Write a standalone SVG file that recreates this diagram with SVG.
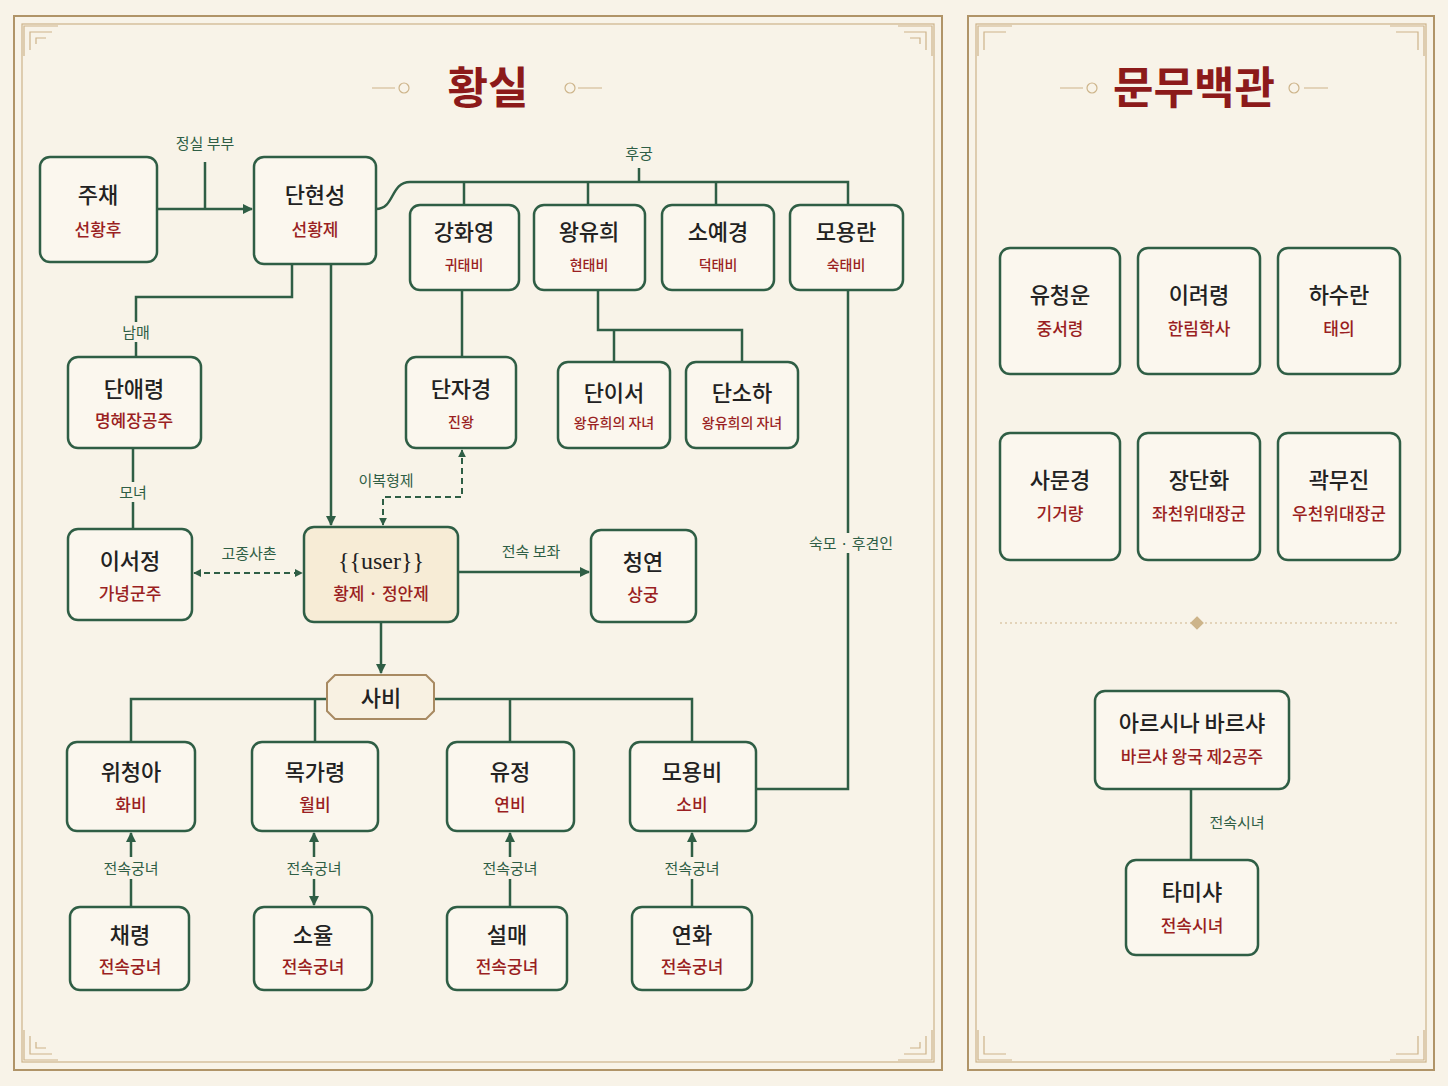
<svg xmlns="http://www.w3.org/2000/svg" width="1448" height="1086" viewBox="0 0 1448 1086">
<defs>
<style>
.n{fill:#fbf7ee;stroke:#2f5e45;stroke-width:2.5}
.u{fill:#f7ecd6;stroke:#2f5e45;stroke-width:2.5}
.t{font-family:"Noto Sans CJK KR","Noto Sans",sans-serif;font-size:22px;fill:#222;text-anchor:middle;font-weight:500}
.s{font-family:"Noto Sans CJK KR","Noto Sans",sans-serif;font-size:17px;fill:#9a1f22;text-anchor:middle;font-weight:500}
.ss{font-size:14px}
.l{font-family:"Noto Sans CJK KR","Noto Sans",sans-serif;font-size:15px;fill:#2f5e45;text-anchor:middle}
.c{fill:none;stroke:#2f5e45;stroke-width:2.5}
.d{fill:none;stroke:#2f5e45;stroke-width:2;stroke-dasharray:6 4}
.f{fill:none;stroke:#b09468;stroke-width:2}
.f2{fill:none;stroke:#cdb48a;stroke-width:1.2}
.h{font-family:"Noto Sans CJK KR",serif;font-size:44px;font-weight:bold;fill:#8c1a1a;text-anchor:middle}
.bg{fill:#f8f3e8}
</style>
<marker id="a" viewBox="0 0 10 10" refX="9" refY="5" markerWidth="4" markerHeight="4" orient="auto-start-reverse"><path d="M0 0L10 5L0 10z" fill="#2f5e45"/></marker>
</defs>
<rect width="1448" height="1086" fill="#f8f3e8"/>
<g id="frames">
<rect x="14" y="16" width="928" height="1054" class="f"/>
<rect x="22" y="24" width="912" height="1038" class="f2"/>
<rect x="968" y="16" width="466" height="1054" class="f"/>
<rect x="976" y="24" width="450" height="1038" class="f2"/>
<g class="f2">
<path d="M24 56V26H58M30 50V32H52M36 44V38H46"/>
<path d="M932 56V26H898M926 50V32H904M920 44V38H910"/>
<path d="M24 1030V1060H58M30 1036V1054H52M36 1042V1048H46"/>
<path d="M932 1030V1060H898M926 1036V1054H904M920 1042V1048H910"/>
<path d="M978 56V26H1012M984 50V32H1006"/>
<path d="M1424 56V26H1390M1418 50V32H1396"/>
<path d="M978 1030V1060H1012M984 1036V1054H1006"/>
<path d="M1424 1030V1060H1390M1418 1036V1054H1396"/>
</g>
<g class="f2"><path d="M372 88H395M578 88H602"/><circle cx="404" cy="88" r="5"/><circle cx="570" cy="88" r="5"/>
<path d="M1060 88H1083M1304 88H1328"/><circle cx="1092" cy="88" r="5"/><circle cx="1294" cy="88" r="5"/>
<path d="M1000 623H1400" stroke-dasharray="2 3"/><path d="M1197 617L1203 623L1197 629L1191 623Z" fill="#cdb48a"/></g>
<text x="488" y="104" class="h">황실</text>
<text x="1194" y="104" class="h">문무백관</text>
</g>
<g id="connectors">
<path class="c" d="M157 209H252" marker-end="url(#a)"/><path class="c" d="M205 209V162"/>
<text x="205" y="149" class="l">정실 부부</text>
<path class="c" d="M376 209C395 209 390 182 410 182H848V205M464 182V205M588 182V205M716 182V205M639 182V168"/>
<text x="639" y="159" class="l">후궁</text>
<path class="c" d="M292 264V297H136V357"/><rect x="116" y="322" width="40" height="20" class="bg"/><text x="136" y="338" class="l">남매</text>
<path class="c" d="M133 448V529"/><rect x="112" y="482" width="42" height="20" class="bg"/><text x="133" y="498" class="l">모녀</text>
<path class="c" d="M331 264V525" marker-end="url(#a)"/>
<path class="c" d="M462 290V357M598 290V330H742V362M614 330V362"/>
<path class="d" d="M383 525V497H462V450" marker-start="url(#a)" marker-end="url(#a)"/>
<text x="386" y="486" class="l">이복형제</text>
<path class="d" d="M194 573H302" marker-start="url(#a)" marker-end="url(#a)"/>
<text x="249" y="559" class="l">고종사촌</text>
<path class="c" d="M458 572H589" marker-end="url(#a)"/><text x="531" y="557" class="l">전속 보좌</text>
<path class="c" d="M381 622V673" marker-end="url(#a)"/>
<path class="c" d="M131 742V699H327M434 699H692V742M315 699V742M510 699V742"/>
<path class="c" d="M848 290V789H756"/>
<rect x="804" y="533" width="94" height="20" class="bg"/><text x="851" y="549" class="l">숙모 · 후견인</text>
<g>
<path class="c" d="M131 907V833" marker-end="url(#a)"/>
<path class="c" d="M314 833V905" marker-start="url(#a)" marker-end="url(#a)"/>
<path class="c" d="M510 907V833" marker-end="url(#a)"/>
<path class="c" d="M692 907V833" marker-end="url(#a)"/>
<g class="bg"><rect x="95" y="857" width="72" height="22"/><rect x="278" y="857" width="72" height="22"/><rect x="474" y="857" width="72" height="22"/><rect x="656" y="857" width="72" height="22"/></g>
<text x="131" y="874" class="l">전속궁녀</text><text x="314" y="874" class="l">전속궁녀</text><text x="510" y="874" class="l">전속궁녀</text><text x="692" y="874" class="l">전속궁녀</text>
</g>
<path class="c" d="M1191 789V860"/><text x="1237" y="828" class="l">전속시녀</text>
</g>
<g id="n1"><rect x="40" y="157" width="117" height="105" rx="10" class="n"/><text x="98" y="203" class="t">주채</text><text x="98" y="236" class="s">선황후</text></g>
<g id="n2"><rect x="254" y="157" width="122" height="107" rx="10" class="n"/><text x="315" y="203" class="t">단현성</text><text x="315" y="236" class="s">선황제</text></g>
<g id="n3"><rect x="410" y="205" width="109" height="85" rx="10" class="n"/><text x="464" y="240" class="t">강화영</text><text x="464" y="270" class="s ss">귀태비</text></g>
<g id="n4"><rect x="534" y="205" width="111" height="85" rx="10" class="n"/><text x="589" y="240" class="t">왕유희</text><text x="589" y="270" class="s ss">현태비</text></g>
<g id="n5"><rect x="662" y="205" width="112" height="85" rx="10" class="n"/><text x="718" y="240" class="t">소예경</text><text x="718" y="270" class="s ss">덕태비</text></g>
<g id="n6"><rect x="790" y="205" width="113" height="85" rx="10" class="n"/><text x="846" y="240" class="t">모용란</text><text x="846" y="270" class="s ss">숙태비</text></g>
<g id="n7"><rect x="68" y="357" width="133" height="91" rx="10" class="n"/><text x="134" y="397" class="t">단애령</text><text x="134" y="427" class="s">명혜장공주</text></g>
<g id="n8"><rect x="406" y="357" width="110" height="91" rx="10" class="n"/><text x="461" y="397" class="t">단자경</text><text x="461" y="427" class="s ss">진왕</text></g>
<g id="n9"><rect x="558" y="362" width="112" height="86" rx="10" class="n"/><text x="614" y="401" class="t">단이서</text><text x="614" y="428" class="s ss">왕유희의 자녀</text></g>
<g id="n10"><rect x="686" y="362" width="112" height="86" rx="10" class="n"/><text x="742" y="401" class="t">단소하</text><text x="742" y="428" class="s ss">왕유희의 자녀</text></g>
<g id="n11"><rect x="68" y="529" width="124" height="91" rx="10" class="n"/><text x="130" y="569" class="t">이서정</text><text x="130" y="600" class="s">가녕군주</text></g>
<g id="n12"><rect x="304" y="527" width="154" height="95" rx="10" class="u"/><text x="381" y="569" class="t" style="font-family:'Liberation Serif',serif;font-size:24px;font-weight:normal">{{user}}</text><text x="381" y="600" class="s">황제 · 정안제</text></g>
<g id="n13"><rect x="591" y="530" width="105" height="92" rx="10" class="n"/><text x="643" y="570" class="t">청연</text><text x="643" y="601" class="s">상궁</text></g>
<g id="n14"><path d="M335 675H426L434 683V711L426 719H335L327 711V683Z" fill="#f8f1e2" stroke="#a88a62" stroke-width="2"/><text x="381" y="706" class="t">사비</text></g>
<g id="n15"><rect x="67" y="742" width="128" height="89" rx="10" class="n"/><text x="131" y="780" class="t">위청아</text><text x="131" y="811" class="s">화비</text></g>
<g id="n16"><rect x="252" y="742" width="126" height="89" rx="10" class="n"/><text x="315" y="780" class="t">목가령</text><text x="315" y="811" class="s">월비</text></g>
<g id="n17"><rect x="447" y="742" width="127" height="89" rx="10" class="n"/><text x="510" y="780" class="t">유정</text><text x="510" y="811" class="s">연비</text></g>
<g id="n18"><rect x="630" y="742" width="126" height="89" rx="10" class="n"/><text x="692" y="780" class="t">모용비</text><text x="692" y="811" class="s">소비</text></g>
<g id="n19"><rect x="70" y="907" width="119" height="83" rx="10" class="n"/><text x="130" y="943" class="t">채령</text><text x="130" y="973" class="s">전속궁녀</text></g>
<g id="n20"><rect x="254" y="907" width="118" height="83" rx="10" class="n"/><text x="313" y="943" class="t">소율</text><text x="313" y="973" class="s">전속궁녀</text></g>
<g id="n21"><rect x="447" y="907" width="120" height="83" rx="10" class="n"/><text x="507" y="943" class="t">설매</text><text x="507" y="973" class="s">전속궁녀</text></g>
<g id="n22"><rect x="632" y="907" width="120" height="83" rx="10" class="n"/><text x="692" y="943" class="t">연화</text><text x="692" y="973" class="s">전속궁녀</text></g>
<g id="n23"><rect x="1000" y="248" width="120" height="126" rx="10" class="n"/><text x="1060" y="303" class="t">유청운</text><text x="1060" y="335" class="s">중서령</text></g>
<g id="n24"><rect x="1138" y="248" width="122" height="126" rx="10" class="n"/><text x="1199" y="303" class="t">이려령</text><text x="1199" y="335" class="s">한림학사</text></g>
<g id="n25"><rect x="1278" y="248" width="122" height="126" rx="10" class="n"/><text x="1339" y="303" class="t">하수란</text><text x="1339" y="335" class="s">태의</text></g>
<g id="n26"><rect x="1000" y="433" width="120" height="127" rx="10" class="n"/><text x="1060" y="488" class="t">사문경</text><text x="1060" y="520" class="s">기거량</text></g>
<g id="n27"><rect x="1138" y="433" width="122" height="127" rx="10" class="n"/><text x="1199" y="488" class="t">장단화</text><text x="1199" y="520" class="s">좌천위대장군</text></g>
<g id="n28"><rect x="1278" y="433" width="122" height="127" rx="10" class="n"/><text x="1339" y="488" class="t">곽무진</text><text x="1339" y="520" class="s">우천위대장군</text></g>
<g id="n29"><rect x="1095" y="691" width="194" height="98" rx="10" class="n"/><text x="1192" y="731" class="t">아르시나 바르샤</text><text x="1192" y="763" class="s">바르샤 왕국 제2공주</text></g>
<g id="n30"><rect x="1126" y="860" width="132" height="95" rx="10" class="n"/><text x="1192" y="900" class="t">타미샤</text><text x="1192" y="932" class="s">전속시녀</text></g>
</svg>
